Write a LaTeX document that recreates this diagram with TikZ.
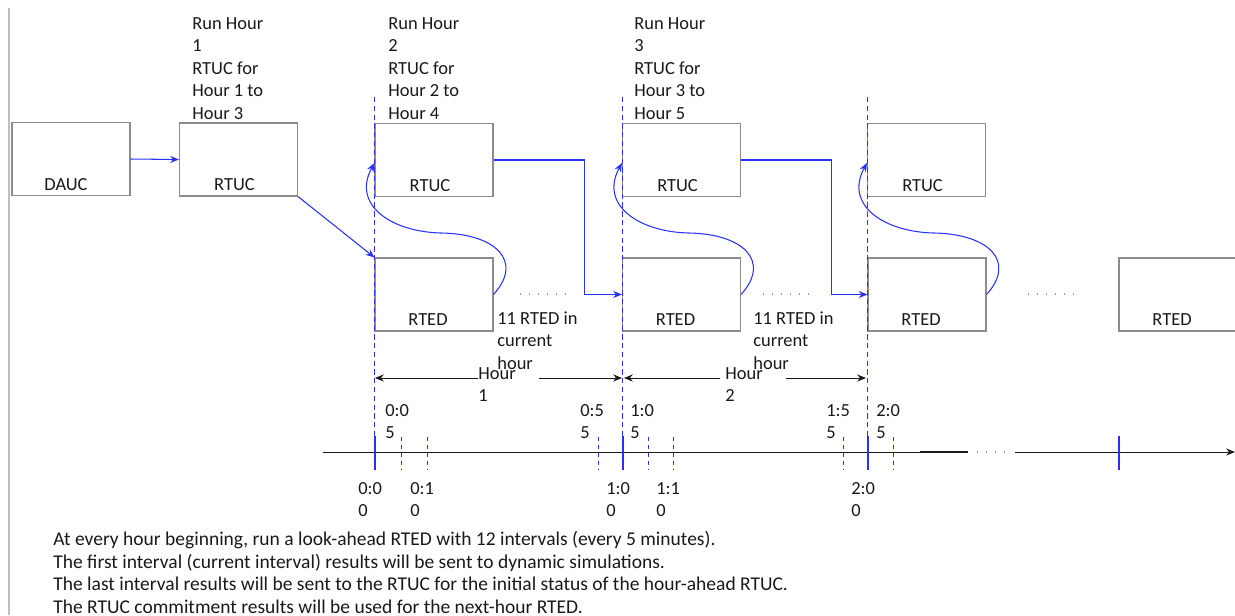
\documentclass[tikz,border=0pt]{standalone}
\usepackage{fontspec}
\setmainfont{Carlito}
\usetikzlibrary{arrows.meta, positioning, calc}
\definecolor{flowblue}{RGB}{40,50,250}
\definecolor{boxgray}{RGB}{140,140,140}
\definecolor{ink}{RGB}{25,25,25}
\definecolor{rulegray}{RGB}{190,190,198}
\definecolor{dotgray}{RGB}{150,150,150}
\tikzset{
  box/.style={rectangle, draw=boxgray, line width=0.6pt,
    minimum width=2.36cm, minimum height=1.46cm, inner sep=0pt},
  boxtag/.style={anchor=base, inner sep=0pt,
    font=\fontsize{10.5}{12.8}\selectfont, text=ink},
  note/.style={anchor=north west, align=left, inner sep=0pt,
    font=\fontsize{10.5}{12.8}\selectfont, text=ink},
  flow/.style={-{Stealth[length=5pt,width=4pt]}, color=flowblue, line width=0.6pt},
  span/.style={-{Stealth[length=5pt,width=4pt]}, color=ink, line width=0.5pt},
  hourline/.style={color=flowblue, line width=0.5pt, dash pattern=on 3pt off 2pt},
  majortick/.style={color=flowblue, line width=1.4pt},
  minortick/.style={color=flowblue, line width=0.5pt, dash pattern=on 2.5pt off 2pt},
  gapdots/.style={color=dotgray, line width=0.6pt, dash pattern=on 0.6pt off 4.5pt}
}
\begin{document}
\begin{tikzpicture}[x=0.2mm, y=-0.2mm]
  \useasboundingbox (0,0) rectangle (1235,615);
  % page rule on the left
  \draw[rulegray, line width=0.6pt] (9,8) -- (9,615);

  % commitment and dispatch blocks
  \node[box] (dauc) at (71,159) {};
  \node[box] (rtuc1) at (238.5,159.5) {};
  \foreach \n/\x in {2/434, 3/681.5, 4/926.5}
    \node[box] (rtuc\n) at (\x,160) {};
  \foreach \n/\x in {1/434, 2/681.5, 3/927, 4/1178}
    \node[box] (rted\n) at (\x,294.5) {};

  % block names, low in each block
  \node[boxtag] (dauc-t) at ($(dauc.south)+(-5,-6)$) {DAUC};
  \foreach \n in {1,2,3,4}
    \node[boxtag] (rtuc\n-t) at ($(rtuc\n.south)+(-4,-6)$) {RTUC};
  \foreach \n in {1,2,3,4}
    \node[boxtag] (rted\n-t) at ($(rted\n.south)+(-6,-6)$) {RTED};

  % hour boundaries
  \foreach \n in {2,3,4}
    \draw[hourline] (rtuc\n.west |- 0,97) -- (rtuc\n.west |- 0,445);

  % run headers
  \node[note] (run1) at (192,17) {Run Hour\\1\\RTUC for\\Hour 1 to\\Hour 3};
  \node[note] (run2) at (388,17) {Run Hour\\2\\RTUC for\\Hour 2 to\\Hour 4};
  \node[note] (run3) at (634,17) {Run Hour\\3\\RTUC for\\Hour 3 to\\Hour 5};

  % flows between runs
  \draw[flow] (dauc.east) -- (rtuc1.west);
  \draw[flow] (rtuc1.south east) -- (rted1.north west);
  \draw[flow] (rtuc2.east) -- ++(91,0) |- (rted2.west);
  \draw[flow] (rtuc3.east) -- ++(90,0) |- (rted3.west);
  \foreach \a/\b in {rted1/rtuc2, rted2/rtuc3, rted3/rtuc4}
    \draw[flow] (\a.east) .. controls +(30,-33) and +(55,1) .. ($(\b.west)+(67,73)$)
      .. controls +(-50,-1) and +(-23,42) .. ($(\b.west)+(0,3)$);

  % dotted continuation
  \foreach \x in {520, 763, 1028}
    \draw[gapdots] (\x,294) -- ++(45,0);

  % RTED count notes
  \node[note] (cnt1) at (497,311) {11 RTED in\\current\\hour};
  \node[note] (cnt2) at (753,311) {11 RTED in\\current\\hour};

  % hour spans
  \coordinate (h0) at (375,378);
  \coordinate (h1) at (623,378);
  \coordinate (h2) at (868,378);
  \node[note] (hr1) at (478,367) {Hour\\1};
  \node[note] (hr2) at (725,367) {Hour\\2};
  \draw[span] (hr1.west |- h0) -- (h0);
  \draw[span] ($(hr1.east |- h0)+(23,0)$) -- ($(h1)+(-1,0)$);
  \draw[span] ($(hr2.west |- h0)+(-5,0)$) -- ($(h1)+(1,0)$);
  \draw[span] ($(hr2.east |- h0)+(23,0)$) -- ($(h2)+(-2,0)$);

  % time axis
  \coordinate (t0) at (323,452);
  \coordinate (tbreak) at (968,452);
  \coordinate (tresume) at (1015,452);
  \coordinate (tend) at (1235,452);
  \draw[ink, line width=0.5pt] (t0) -- (tbreak);
  \draw[ink, line width=0.9pt] (920,452) -- (tbreak);
  \draw[gapdots] (977,452) -- (1012,452);
  \draw[span] (tresume) -- (tend);
  \foreach \x in {375,623,868,1119}
    \draw[majortick] (\x,436) -- (\x,470);
  \foreach \x in {401,427,598,648,673,843,893}
    \draw[minortick] (\x,437) -- (\x,470);

  % tick labels
  \foreach \x/\lbl [count=\i] in {385/0:0, 580/0:5, 630/1:0, 826/1:5, 876/2:0}
    \node[note] (up\i) at (\x,404) {\lbl\\5};
  \foreach \x/\lbl [count=\i] in {358/0:0, 410/0:1, 606/1:0, 656/1:1, 851/2:0}
    \node[note] (down\i) at (\x,482) {\lbl\\0};

  % notes under the axis
  \node[note, font=\fontsize{11.1}{12.8}\selectfont] (summary) at (53,531) {At every hour beginning, run a look-ahead RTED with 12 intervals (every 5 minutes).\\
    The first interval (current interval) results will be sent to dynamic simulations.\\
    The last interval results will be sent to the RTUC for the initial status of the hour-ahead RTUC.\\
    The RTUC commitment results will be used for the next-hour RTED.};
\end{tikzpicture}
\end{document}
